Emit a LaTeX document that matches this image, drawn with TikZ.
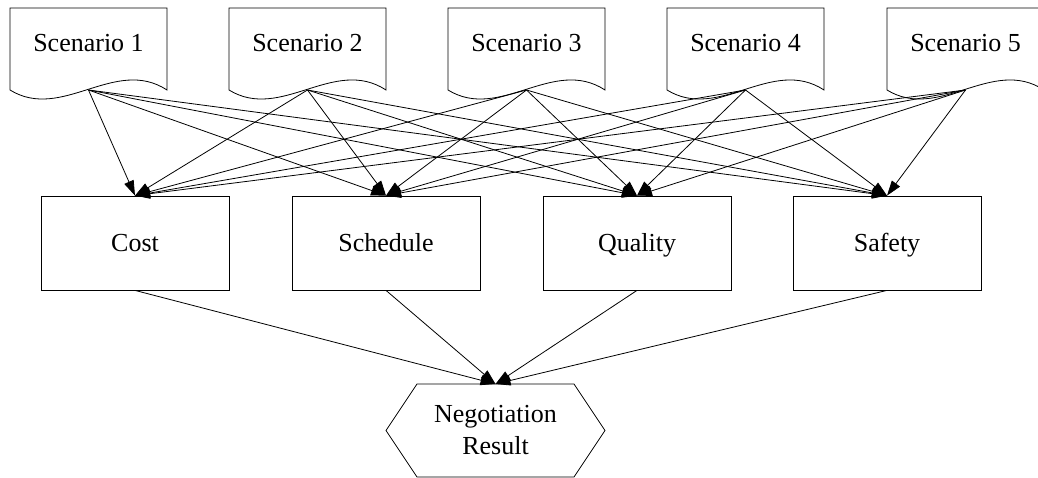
\documentclass[tikz,border=0pt]{standalone}
\usepackage{fontspec}
\setmainfont{Liberation Serif}
\usetikzlibrary{arrows.meta}
\begin{document}
\begin{tikzpicture}[x=1pt,y=-1pt,
  every node/.style={font=\fontsize{26}{32}\selectfont},
  line/.style={draw=black,line width=0.8pt},
  conn/.style={line, -{Triangle[length=15pt,width=10pt]}},
  box/.style={draw, line width=0.8pt, minimum width=188pt, minimum height=94pt, inner sep=0pt, text height=18pt, text depth=0pt},
  lbl/.style={inner sep=0pt}]
\clip (0,0) rectangle (1038,478);
\fill[white] (0,0) rectangle (1038,478);
\foreach \i/\L in {1/10,2/229,3/448,4/667,5/887}{
  \draw[line] (\L,90) -- (\L,8) -- (\L+157,8) -- (\L+157,90) .. controls (\L+105,56) and (\L+52,122) .. (\L,90) -- cycle;
  \node[lbl, anchor=base] (s\i) at (\L+78.5,52) {Scenario \i};
  \coordinate (s\i b) at (\L+78.5,90);
}
\node[box] (cost) at (135,243) {Cost};
\node[box] (sched) at (386,243) {Schedule};
\node[box] (qual) at (637,243) {Quality};
\node[box] (safe) at (887,243) {Safety};
\node[lbl, align=center] (neg) at (495.5,430) {Negotiation\\Result};
\draw[line] (386,430.5) -- (417,384) -- (574,384) -- (605,430.5) -- (574,477) -- (417,477) -- cycle;
\coordinate (negtop) at (495.5,384);
\foreach \i in {1,...,5}{
  \foreach \t in {cost,sched,qual,safe}{
    \draw[conn] (s\i b) -- (\t.north);
  }
}
\foreach \t in {cost,sched,qual,safe}{
  \draw[conn] (\t.south) -- (negtop);
}
\end{tikzpicture}
\end{document}
